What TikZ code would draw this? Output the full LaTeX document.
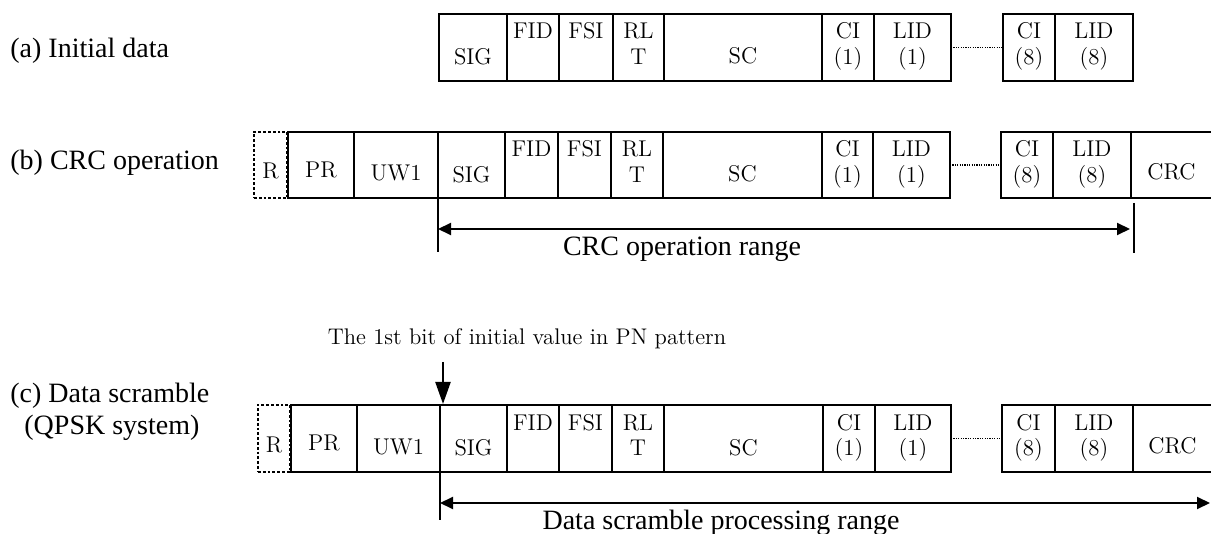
\documentclass[tikz,border=0pt]{standalone}
\usepackage{fontspec}
\newfontfamily\tnr{Liberation Serif}
\usetikzlibrary{fit,calc,arrows.meta}
% #1 style, #2 name, #3 x1, #4 x2, #5 ytop, #6 ybottom
\newcommand\cellbox[6][cell]{%
  \path (#3,#5) coordinate (#2-nw) (#4,#6) coordinate (#2-se);
  \node[#1, fit=(#2-nw)(#2-se)] (#2) {};}
% #1 box name, #2 baseline offset from top, #3 text
\newcommand\ctxt[3]{\node[ctext] (#1-t#2) at ($(#1.north)+(0,#2)$) {#3};}
\newcommand\ctwo[3]{\ctxt{#1}{25}{#2}\ctxt{#1}{51}{#3}}
\begin{document}
\begin{tikzpicture}[x=0.5pt,y=-0.5pt,
  cell/.style={draw, line width=1.35pt, inner sep=0pt, outer sep=0pt},
  opencell/.style={inner sep=0pt, outer sep=0pt},
  rbox/.style={draw, line width=1.4pt, densely dotted, inner sep=0pt, outer sep=0pt},
  ctext/.style={font=\fontsize{11.4}{13}\selectfont, inner sep=0pt, anchor=base},
  rowlabel/.style={font=\tnr\fontsize{14}{17}\selectfont, inner sep=0pt, anchor=base west},
  rangetext/.style={font=\tnr\fontsize{14}{17}\selectfont, inner sep=0pt, anchor=base},
  pntext/.style={font=\fontsize{11.3}{13}\selectfont, inner sep=0pt, anchor=base},
  gapline/.style={line width=0.6pt, dash pattern=on 0.6pt off 0.6pt},
  rangearrow/.style={line width=1pt, {Triangle[length=6.5pt,width=6pt]}-{Triangle[length=6.5pt,width=6pt]}},
  tickline/.style={line width=1pt},
  pnarrow/.style={line width=1.1pt, -{Triangle[length=11pt,width=7.5pt]}},
]
\useasboundingbox (0,0) rectangle (1211,534);

% ---------- row labels ----------
\node[rowlabel] (la) at (10,58) {(a) Initial data};
\node[rowlabel] (lb) at (10,170) {(b) CRC operation};
\node[rowlabel] (lc1) at (10,402) {(c) Data scramble};
\node[rowlabel] (lc2) at (24,435) {(QPSK system)};

% ---------- row (a) ----------
\cellbox{a-SIG}{439}{507}{14}{81}   \ctxt{a-SIG}{51}{SIG}
\cellbox{a-FID}{507}{559}{14}{81}   \ctxt{a-FID}{25}{FID}
\cellbox{a-FSI}{559}{613}{14}{81}   \ctxt{a-FSI}{25}{FSI}
\cellbox{a-RLT}{613}{664}{14}{81}   \ctwo{a-RLT}{RL}{T}
\cellbox{a-SC}{664}{822}{14}{81}    \ctxt{a-SC}{50}{SC}
\cellbox{a-CI1}{822}{874}{14}{81}   \ctwo{a-CI1}{CI}{(1)}
\cellbox{a-LID1}{874}{951}{14}{81}  \ctwo{a-LID1}{LID}{(1)}
\cellbox{a-CI8}{1003}{1055}{14}{81} \ctwo{a-CI8}{CI}{(8)}
\cellbox{a-LID8}{1055}{1133}{14}{81}\ctwo{a-LID8}{LID}{(8)}
\draw[gapline] (a-LID1.east) -- (a-CI8.west);

% ---------- row (b) ----------
\cellbox{b-PR}{288}{354}{132}{198}   \ctxt{b-PR}{46}{PR}
\cellbox[rbox]{b-R}{254}{287}{132}{198} \ctxt{b-R}{47}{R}
\cellbox{b-UW1}{354}{438}{132}{198}  \ctxt{b-UW1}{49}{UW1}
\cellbox{b-SIG}{438}{505}{132}{198}  \ctxt{b-SIG}{51}{SIG}
\cellbox{b-FID}{505}{558}{132}{198}  \ctxt{b-FID}{25}{FID}
\cellbox{b-FSI}{558}{611}{132}{198}  \ctxt{b-FSI}{25}{FSI}
\cellbox{b-RLT}{611}{663}{132}{198}  \ctwo{b-RLT}{RL}{T}
\cellbox{b-SC}{663}{822}{132}{198}   \ctxt{b-SC}{50}{SC}
\cellbox{b-CI1}{822}{873}{132}{198}  \ctwo{b-CI1}{CI}{(1)}
\cellbox{b-LID1}{873}{950}{132}{198} \ctwo{b-LID1}{LID}{(1)}
\cellbox{b-CI8}{1001}{1053}{132}{198}\ctwo{b-CI8}{CI}{(8)}
\cellbox{b-LID8}{1053}{1131}{132}{198}\ctwo{b-LID8}{LID}{(8)}
\cellbox[opencell]{b-CRC}{1131}{1212}{132}{198}\ctxt{b-CRC}{48}{CRC}
\draw[cell] (b-CRC.north east) -- (b-CRC.north west) -- (b-CRC.south west) -- (b-CRC.south east);
\draw[gapline] (b-LID1.east) -- (b-CI8.west);

% CRC operation range
\coordinate (bTickL) at (438,252);
\coordinate (bA1) at (438,229);
\coordinate (bA2) at (1130,229);
\coordinate (bTickR1) at (1134,203);
\coordinate (bTickR2) at (1134,253);
\draw[tickline] (b-SIG.south west) -- (bTickL);
\draw[tickline] (bTickR1) -- (bTickR2);
\draw[rangearrow] (bA1) -- (bA2);
\node[rangetext] (b-range) at (682,256) {CRC operation range};

% ---------- row (c) ----------
\node[pntext] (pn) at (527,345) {The 1st bit of initial value in PN pattern};
\cellbox{c-PR}{291}{357}{405}{472}   \ctxt{c-PR}{46}{PR}
\cellbox[rbox]{c-R}{258}{290}{405}{472} \ctxt{c-R}{47}{R}
\cellbox{c-UW1}{357}{440}{405}{472}  \ctxt{c-UW1}{49}{UW1}
\cellbox{c-SIG}{440}{507}{405}{472}  \ctxt{c-SIG}{51}{SIG}
\cellbox{c-FID}{507}{559}{405}{472}  \ctxt{c-FID}{25}{FID}
\cellbox{c-FSI}{559}{612}{405}{472}  \ctxt{c-FSI}{25}{FSI}
\cellbox{c-RLT}{612}{664}{405}{472}  \ctwo{c-RLT}{RL}{T}
\cellbox{c-SC}{664}{823}{405}{472}   \ctxt{c-SC}{50}{SC}
\cellbox{c-CI1}{823}{875}{405}{472}  \ctwo{c-CI1}{CI}{(1)}
\cellbox{c-LID1}{875}{951}{405}{472} \ctwo{c-LID1}{LID}{(1)}
\cellbox{c-CI8}{1002}{1055}{405}{472}\ctwo{c-CI8}{CI}{(8)}
\cellbox{c-LID8}{1055}{1133}{405}{472}\ctwo{c-LID8}{LID}{(8)}
\cellbox[opencell]{c-CRC}{1133}{1212}{405}{472}\ctxt{c-CRC}{48}{CRC}
\draw[cell] (c-CRC.north east) -- (c-CRC.north west) -- (c-CRC.south west) -- (c-CRC.south east);
\draw[gapline] (c-LID1.east) -- (c-CI8.west);

% PN arrow
\coordinate (pnStart) at (443,362);
\draw[pnarrow] (pnStart) -- ($(c-SIG.north west)+(3,-1)$);

% Data scramble processing range
\coordinate (cTickL) at (440,520);
\coordinate (cA1) at (440,503);
\coordinate (cA2) at (1210,503);
\draw[tickline] (c-SIG.south west) -- (cTickL);
\draw[rangearrow] (cA1) -- (cA2);
\node[rangetext] (c-range) at (721,529) {Data scramble processing range};
\end{tikzpicture}
\end{document}
